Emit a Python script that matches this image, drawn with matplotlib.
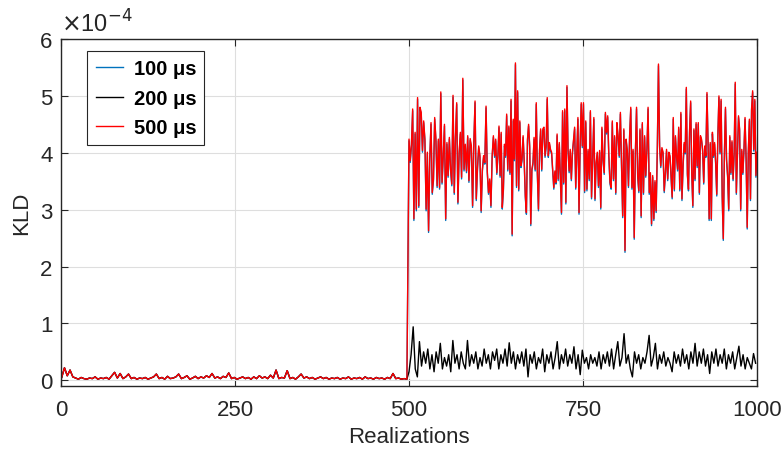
import numpy as np
import matplotlib
matplotlib.use("Agg")
import matplotlib.pyplot as plt

# ---------------- data (KLD values in units of 1e-4) ----------------
series_labels = ["100 \u03bcs", "200 \u03bcs", "500 \u03bcs"]
x_ticks = [0, 250, 500, 750, 1000]
y_ticks = [0, 1, 2, 3, 4, 5, 6]

# realizations 1..497 (every 4th), shared low level before the change (all three overlap)
pre_change = [0.05, 0.22, 0.08, 0.18, 0.06, 0.04, 0.02, 0.05, 0.03, 0.02, 0.04, 0.03, 0.06,
              0.02, 0.04, 0.03, 0.05, 0.02, 0.08, 0.14, 0.04, 0.12, 0.03, 0.06, 0.11, 0.03,
              0.05, 0.02, 0.04, 0.03, 0.05, 0.02, 0.04, 0.06, 0.11, 0.03, 0.05, 0.02, 0.07,
              0.03, 0.04, 0.06, 0.11, 0.03, 0.05, 0.08, 0.02, 0.04, 0.07, 0.03, 0.06, 0.04,
              0.08, 0.05, 0.12, 0.04, 0.06, 0.03, 0.07, 0.05, 0.13, 0.03, 0.05, 0.02, 0.04,
              0.06, 0.03, 0.05, 0.02, 0.06, 0.03, 0.08, 0.04, 0.06, 0.03, 0.09, 0.04, 0.18,
              0.03, 0.05, 0.04, 0.17, 0.03, 0.05, 0.02, 0.06, 0.11, 0.04, 0.06, 0.03, 0.05,
              0.02, 0.04, 0.06, 0.03, 0.05, 0.02, 0.04, 0.03, 0.05, 0.02, 0.04, 0.03, 0.06,
              0.02, 0.04, 0.03, 0.05, 0.02, 0.06, 0.03, 0.04, 0.02, 0.05, 0.03, 0.04, 0.02,
              0.05, 0.03, 0.12, 0.03, 0.04, 0.02, 0.03, 0.02]
pre_range = (1, 497)

# 500 us, after the change, read in four stretches of realizations
red_seg1 = [4.24, 3.86, 4.15, 4.77, 2.84, 4.36, 3.01, 4.97, 3.07, 4.80, 4.71, 4.04, 4.56, 4.24,
            3.01, 4.01, 2.63, 3.92, 4.53, 3.30, 3.54, 4.62, 4.24, 3.42, 4.24, 3.39, 5.07, 3.48,
            3.95, 4.50, 2.84, 4.18, 3.60, 4.27, 3.71, 3.45, 5.01, 3.30, 4.27, 4.88, 3.13, 4.01,
            4.36, 3.57, 5.31, 3.71, 4.15, 3.68, 4.30, 3.51, 4.25, 4.12, 3.07, 4.18, 4.91, 3.19,
            3.74, 4.12, 3.95, 2.98, 3.71, 3.95, 3.83, 4.82, 3.68, 3.30, 3.54, 3.07, 3.95, 4.30]
red_seg2 = [3.95, 4.24, 3.65, 3.95, 4.47, 3.60, 4.36, 3.04, 3.36, 4.15, 3.95, 4.68, 3.71, 4.47,
            3.65, 4.94, 2.57, 4.59, 3.89, 5.58, 3.42, 5.09, 3.36, 4.56, 3.77, 3.89, 4.30, 3.86,
            3.25, 2.95, 4.24, 4.50, 4.12, 2.75, 3.71, 3.83, 4.27, 3.71, 4.88, 3.65, 3.01, 4.06,
            4.42, 3.71, 4.42, 4.45, 3.95, 4.12, 4.97, 3.95, 4.18, 4.06, 4.01, 3.71, 3.39, 3.68,
            3.48, 4.33, 3.54, 4.18, 3.54, 2.95, 4.74, 3.48, 4.77, 3.13, 5.18, 4.06, 3.68, 4.06,
            3.54, 4.01, 4.24, 4.45, 3.39, 4.01, 4.62, 2.95, 4.12, 4.88]
red_seg3 = [4.12, 4.88, 3.33, 4.56, 3.36, 4.06, 3.54, 4.74, 3.22, 3.95, 4.62, 3.19, 3.83, 4.01,
            3.42, 4.04, 3.04, 4.45, 3.89, 3.65, 4.71, 4.36, 4.65, 3.95, 3.48, 3.39, 4.56, 3.54,
            4.30, 3.30, 4.53, 4.30, 3.95, 4.71, 3.77, 2.89, 4.42, 2.28, 4.24, 4.04, 3.42, 4.30,
            4.80, 3.39, 4.06, 2.51, 4.01, 4.80, 3.60, 3.33, 4.42, 2.89, 4.53, 3.30, 4.30, 3.60,
            4.06, 4.80, 3.30, 3.65, 2.75, 3.60, 2.84, 3.51, 2.98, 4.06, 5.56, 4.12, 3.77, 4.09,
            4.01, 3.33, 3.65, 4.06, 3.54, 4.01]
red_seg4 = [3.95, 3.60, 3.22, 4.62, 3.36, 4.30, 3.95, 3.71, 4.45, 3.36, 4.71, 3.19, 3.77, 4.18,
            4.01, 5.15, 3.63, 3.36, 4.39, 4.91, 3.65, 3.07, 4.42, 3.54, 4.53, 3.77, 4.53, 3.30,
            4.30, 4.24, 4.06, 3.48, 4.12, 3.95, 5.06, 4.18, 2.84, 4.18, 2.84, 4.36, 3.95, 4.18,
            3.83, 3.27, 4.30, 5.00, 4.01, 4.94, 3.25, 2.49, 3.95, 4.80, 3.89, 3.60, 3.01, 4.30,
            3.65, 4.21, 3.54, 4.01, 5.24, 3.30, 4.01, 4.65, 4.42, 3.01, 4.06, 3.65, 4.06, 4.62,
            3.89, 2.69, 4.01, 4.59, 3.19, 4.77, 5.09, 4.06, 4.94, 3.60, 4.01]

# 100 us, after the change (sits just under the red trace)
blue_seg1 = [4.21, 3.83, 4.12, 4.74, 2.81, 4.33, 2.98, 4.94, 3.04, 4.77, 4.68, 4.01, 4.53, 4.21,
             2.98, 3.98, 2.60, 3.89, 4.50, 3.27, 3.51, 4.59, 4.21, 3.39, 4.21, 3.36, 5.04, 3.45,
             3.92, 4.47, 2.81, 4.15, 3.57, 4.24, 3.68, 3.42, 4.98, 3.27, 4.24, 4.85, 3.10, 3.98,
             4.33, 3.54, 5.28, 3.68, 4.12, 3.65, 4.27, 3.48, 4.22, 4.09, 3.04, 4.15, 4.88, 3.16,
             3.71, 4.09, 3.92, 2.95, 3.68, 3.92, 3.80, 4.79, 3.65, 3.27, 3.51, 3.04, 3.92, 4.27]
blue_seg2 = [3.92, 4.21, 3.62, 3.92, 4.44, 3.57, 4.33, 3.01, 3.33, 4.12, 3.92, 4.65, 3.68, 4.44,
             3.62, 4.91, 2.54, 4.56, 3.86, 5.55, 3.39, 5.06, 3.33, 4.53, 3.74, 3.86, 4.27, 3.83,
             3.22, 2.92, 4.21, 4.47, 4.09, 2.72, 3.68, 3.80, 4.24, 3.68, 4.85, 3.62, 2.98, 4.03,
             4.39, 3.68, 4.39, 4.42, 3.92, 4.09, 4.94, 3.92, 4.15, 4.03, 3.98, 3.68, 3.36, 3.65,
             3.45, 4.30, 3.51, 4.15, 3.51, 2.92, 4.71, 3.45, 4.74, 3.10, 5.15, 4.03, 3.65, 4.03,
             3.51, 3.98, 4.21, 4.42, 3.36, 3.98, 4.59, 2.92, 4.09, 4.85]
blue_seg3 = [4.09, 4.85, 3.30, 4.53, 3.33, 4.03, 3.51, 4.71, 3.19, 3.92, 4.59, 3.16, 3.80, 3.98,
             3.39, 4.01, 3.01, 4.42, 3.86, 3.62, 4.68, 4.33, 4.62, 3.92, 3.45, 3.36, 4.53, 3.51,
             4.27, 3.27, 4.50, 4.27, 3.92, 4.68, 3.74, 2.86, 4.39, 2.25, 4.21, 4.01, 3.39, 4.27,
             4.77, 3.36, 4.03, 2.48, 3.98, 4.77, 3.57, 3.30, 4.39, 2.86, 4.50, 3.27, 4.27, 3.57,
             4.03, 4.77, 3.27, 3.62, 2.72, 3.57, 2.81, 3.48, 2.95, 4.03, 5.53, 4.09, 3.74, 4.06,
             3.98, 3.30, 3.62, 4.03, 3.51, 3.98]
blue_seg4 = [3.92, 3.57, 3.19, 4.59, 3.33, 4.27, 3.92, 3.68, 4.42, 3.33, 4.68, 3.16, 3.74, 4.15,
             3.98, 5.12, 3.60, 3.33, 4.36, 4.88, 3.62, 3.04, 4.39, 3.51, 4.50, 3.74, 4.50, 3.27,
             4.27, 4.21, 4.03, 3.45, 4.09, 3.92, 5.03, 4.15, 2.81, 4.15, 2.81, 4.33, 3.92, 4.15,
             3.80, 3.24, 4.27, 4.97, 3.98, 4.91, 3.22, 2.46, 3.92, 4.77, 3.86, 3.57, 2.98, 4.27,
             3.62, 4.18, 3.51, 3.98, 5.21, 3.27, 3.98, 4.62, 4.39, 2.98, 4.03, 3.62, 4.03, 4.59,
             3.86, 2.66, 3.98, 4.56, 3.16, 4.74, 5.06, 4.03, 4.91, 3.57, 3.98]

# realization boundaries of the four stretches
seg_edges = [500, 623, 749, 875, 1000]

# 200 us, after the change (realizations 500..998, every 3rd)
black_post = [0.15, 0.45, 0.94, 0.20, 0.06, 0.68, 0.25, 0.50, 0.30, 0.55, 0.20, 0.45, 0.15,
              0.50, 0.30, 0.65, 0.20, 0.40, 0.25, 0.45, 0.15, 0.70, 0.30, 0.45, 0.20, 0.50,
              0.30, 0.20, 0.70, 0.25, 0.45, 0.30, 0.50, 0.20, 0.40, 0.25, 0.55, 0.30, 0.45,
              0.20, 0.50, 0.35, 0.55, 0.20, 0.45, 0.30, 0.55, 0.25, 0.66, 0.30, 0.50, 0.20,
              0.45, 0.30, 0.50, 0.25, 0.55, 0.06, 0.45, 0.30, 0.50, 0.20, 0.40, 0.30, 0.55,
              0.15, 0.45, 0.30, 0.50, 0.20, 0.40, 0.68, 0.20, 0.45, 0.30, 0.55, 0.25, 0.45,
              0.30, 0.59, 0.20, 0.45, 0.10, 0.53, 0.30, 0.40, 0.20, 0.45, 0.30, 0.40, 0.25,
              0.50, 0.20, 0.45, 0.30, 0.50, 0.25, 0.55, 0.20, 0.45, 0.68, 0.25, 0.40, 0.82,
              0.30, 0.45, 0.20, 0.06, 0.50, 0.30, 0.45, 0.20, 0.40, 0.30, 0.50, 0.79, 0.25,
              0.40, 0.65, 0.20, 0.45, 0.30, 0.50, 0.25, 0.40, 0.30, 0.15, 0.50, 0.30, 0.45,
              0.25, 0.55, 0.30, 0.45, 0.20, 0.50, 0.30, 0.65, 0.25, 0.50, 0.30, 0.55, 0.25,
              0.45, 0.12, 0.50, 0.30, 0.55, 0.25, 0.45, 0.30, 0.55, 0.20, 0.45, 0.30, 0.50,
              0.20, 0.40, 0.60, 0.25, 0.45, 0.20, 0.40, 0.30, 0.20, 0.47, 0.30]
black_range = (500, 998)

# ---------------- assemble series ----------------
x_pre = np.linspace(pre_range[0], pre_range[1], len(pre_change))

def post_series(segs):
    xs, ys = [], []
    for k, seg in enumerate(segs):
        xs.append(np.linspace(seg_edges[k], seg_edges[k + 1], len(seg), endpoint=(k == len(segs) - 1)))
        ys.append(np.asarray(seg, dtype=float))
    return np.concatenate(xs), np.concatenate(ys)

xb, yb = post_series([blue_seg1, blue_seg2, blue_seg3, blue_seg4])
xr, yr = post_series([red_seg1, red_seg2, red_seg3, red_seg4])
xk = np.linspace(black_range[0], black_range[1], len(black_post))

x_blue = np.concatenate([x_pre, xb]); y_blue = np.concatenate([pre_change, yb])
x_black = np.concatenate([x_pre, xk]); y_black = np.concatenate([pre_change, black_post])
x_red = np.concatenate([x_pre, xr]); y_red = np.concatenate([pre_change, yr])

# ---------------- figure ----------------
plt.rcParams['font.family'] = ['Liberation Sans', 'DejaVu Sans']
fig = plt.figure(figsize=(7.83, 4.52), dpi=100)
ax = fig.add_axes([61 / 783, 1 - 387 / 452, (757 - 61) / 783, (387 - 40) / 452])

ax.plot(x_blue, y_blue, color=(0.0, 0.447, 0.741), lw=1.0, label=series_labels[0])
ax.plot(x_black, y_black, color='black', lw=1.0, label=series_labels[1])
ax.plot(x_red, y_red, color=(1.0, 0.0, 0.0), lw=1.0, label=series_labels[2])

ax.set_xlim(0, 1000)
ax.set_ylim(-0.1, 6)
ax.set_xticks(x_ticks)
ax.set_yticks(y_ticks)
ax.set_xticklabels([str(t) for t in x_ticks])
ax.set_yticklabels([str(t) for t in y_ticks])

spine_c = (0.15, 0.15, 0.15)
for s in ax.spines.values():
    s.set_color(spine_c)
    s.set_linewidth(1.0)
ax.tick_params(direction='in', length=5, width=0.8, colors=spine_c, labelsize=16,
               top=True, right=True)
ax.tick_params(axis='x', pad=9)
ax.tick_params(axis='y', pad=6)
ax.grid(True, color=(0.87, 0.87, 0.87), linewidth=0.8)
ax.set_axisbelow(True)

ax.set_xlabel('Realizations', fontsize=16, color=spine_c, labelpad=5)
ax.set_ylabel('KLD', fontsize=16, color=spine_c, labelpad=6)

ax.text(0.0, 1.008, r'$\times$10$^{-4}$', transform=ax.transAxes, fontsize=17,
        color=spine_c, ha='left', va='bottom')

leg = ax.legend(loc='upper left', bbox_to_anchor=(0.038, 0.965), fancybox=False,
                framealpha=1, edgecolor=spine_c, prop={'weight': 'bold', 'size': 14.5},
                handlelength=1.35, handletextpad=0.55, borderpad=0.4, labelspacing=0.52,
                borderaxespad=0)
leg.get_frame().set_linewidth(0.8)

fig.savefig('out.png', dpi=100)
